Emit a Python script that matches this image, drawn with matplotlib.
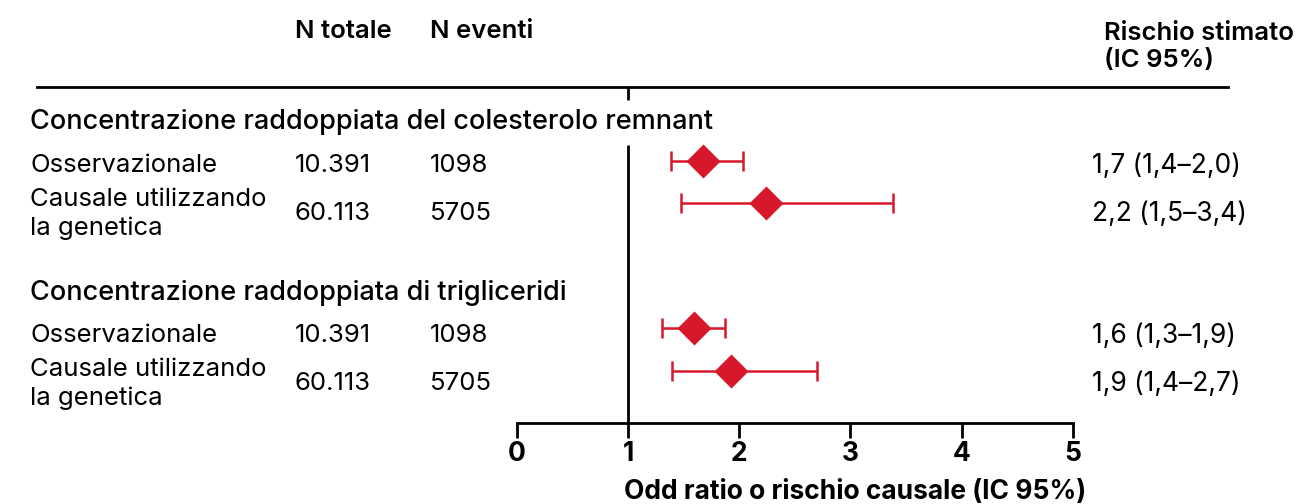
import matplotlib.pyplot as plt

plt.rcParams['font.family'] = ['Inter', 'DejaVu Sans']

# data
sections = ["Concentrazione raddoppiata del colesterolo remnant",
            "Concentrazione raddoppiata di trigliceridi"]
row_labels = ["Osservazionale", "Causale utilizzando\nla genetica",
              "Osservazionale", "Causale utilizzando\nla genetica"]
n_totale = ["10.391", "60.113", "10.391", "60.113"]
n_eventi = ["1098", "5705", "1098", "5705"]
stima = [1.67, 2.24, 1.59, 1.93]
ic_lo = [1.39, 1.48, 1.31, 1.40]
ic_hi = [2.03, 3.38, 1.87, 2.70]
rischio_txt = ["1,7 (1,4–2,0)", "2,2 (1,5–3,4)", "1,6 (1,3–1,9)", "1,9 (1,4–2,7)"]
xticks = [0, 1, 2, 3, 4, 5]

# layout (pixel rows from top)
row_y = [161, 203, 328, 371]
text_y = [166, 214, 336, 384]
sec_y = [122, 293]
RED = '#d7182a'

W, H = 1303, 504
fig = plt.figure(figsize=(W / 100, H / 100), dpi=100)

# overlay for all the table text
ov = fig.add_axes([0, 0, 1, 1])
ov.set_xlim(0, W)
ov.set_ylim(H, 0)
ov.axis('off')

# forest plot axes
ax = fig.add_axes([516.7 / W, (H - 423) / H, (1073 - 516.7) / W, (423 - 87) / H])
ax.set_xlim(0, 5)
ax.set_ylim(423, 87)
ax.patch.set_alpha(0)
for s in ['top', 'right', 'left']:
    ax.spines[s].set_visible(False)
ax.spines['bottom'].set_linewidth(2)
ax.set_yticks([])
ax.set_xticks(xticks)
ax.set_xticklabels([str(t) for t in xticks], fontsize=19, fontweight='bold')
ax.tick_params(axis='x', length=11, width=2, pad=2)

ax.vlines(1, 87, 100, color='black', lw=2)
ax.vlines(1, 145, 423, color='black', lw=2)

ax.hlines(row_y, ic_lo, ic_hi, color=RED, lw=1.8)
ax.vlines(ic_lo, [y - 10 for y in row_y], [y + 10 for y in row_y], color=RED, lw=1.8)
ax.vlines(ic_hi, [y - 10 for y in row_y], [y + 10 for y in row_y], color=RED, lw=1.8)
ax.scatter(stima, row_y, marker='D', s=300, color=RED, lw=0, zorder=3, clip_on=False)

# header
ov.text(295, 32, "N totale", fontsize=18.5, fontweight='semibold', va='center')
ov.text(430, 32, "N eventi", fontsize=18.5, fontweight='semibold', va='center')
ov.text(1104, 47, "Rischio stimato\n(IC 95%)", fontsize=18.5, fontweight='semibold',
        va='center', linespacing=1.25)
ov.plot([37, 1228], [87, 87], color='black', lw=2)

for t, y in zip(sections, sec_y):
    ov.text(30, y, t, fontsize=19.5, fontweight='medium', va='center')

for i in range(4):
    ov.text(30, text_y[i], row_labels[i], fontsize=18.5,
            va='center', linespacing=1.3)
    ov.text(295, text_y[i], n_totale[i], fontsize=18.5, va='center')
    ov.text(430, text_y[i], n_eventi[i], fontsize=18.5, va='center')
    ov.text(1092, text_y[i], rischio_txt[i], fontsize=19, va='center')

ov.text(855, 492, "Odd ratio o rischio causale (IC 95%)", fontsize=19,
        fontweight='bold', ha='center', va='center')

fig.savefig('out.png', dpi=100)
